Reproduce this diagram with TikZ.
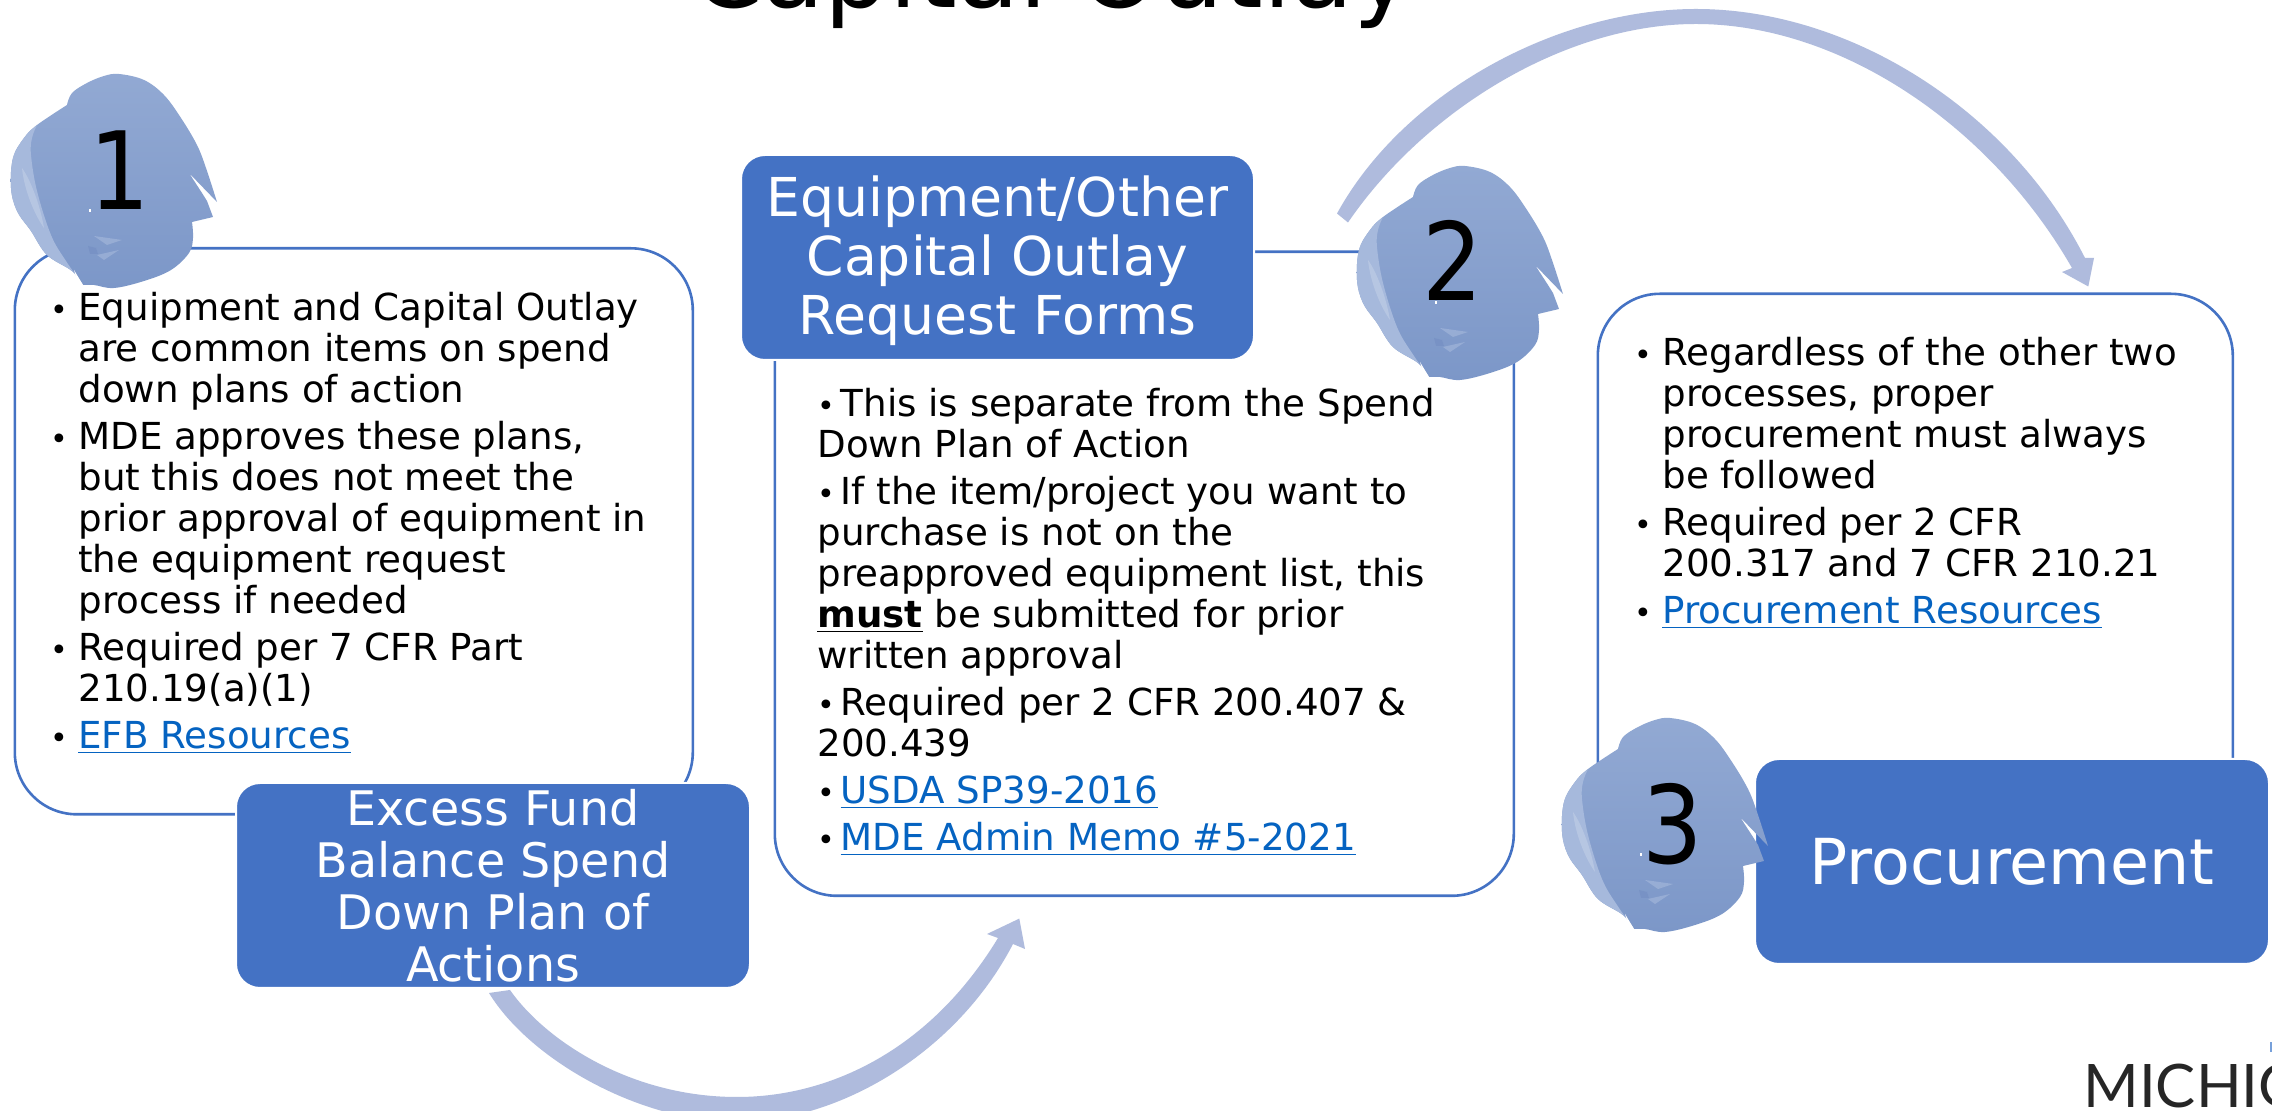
\documentclass[tikz,border=0pt]{standalone}
\usepackage{graphicx}
\usepackage{fontspec}
\setmainfont{DejaVu Sans}
\newfontfamily\logofont{Lato}
\usetikzlibrary{calc}
\definecolor{hdrblue}{HTML}{4472C4}
\definecolor{arrowblue}{HTML}{AFBBDD}
\definecolor{linkblue}{HTML}{0563C1}
\definecolor{blobtop}{HTML}{92A9D3}
\definecolor{blobbot}{HTML}{7C97C8}
\definecolor{bloblight}{HTML}{A6B9DC}
\definecolor{blobpale}{HTML}{C2CFE7}
\definecolor{blobdark}{HTML}{7690C3}
\newcommand{\bul}{\leavevmode\llap{\fontsize{15}{15}\selectfont•\hspace{5pt}}}
\newcommand{\bulin}{{\fontsize{15}{15}\selectfont•}\hspace{2.8pt}}
\newcommand{\lnk}[1]{\textcolor{linkblue}{\underline{#1}}}
\newcommand{\dgt}[1]{\scalebox{.88}[1]{#1}}
\tikzset{
  outlinebox/.style={draw=hdrblue,line width=1.3pt,fill=white,rounded corners=31pt,anchor=north west,inner sep=0pt},
  hdrbox/.style={draw=white,line width=1pt,fill=hdrblue,rounded corners=12pt,anchor=north west,inner sep=0pt,text=white,align=center},
  bodytext/.style={anchor=north west,inner sep=0pt,align=left,font=\fontsize{18.6}{20.5}\selectfont},
  digit/.style={inner sep=0pt,font=\fontsize{54}{54}\selectfont},
  arrowshape/.style={fill=arrowblue,draw=none},
  blobpic/.pic={
    \shade[top color=blobtop,bottom color=blobbot]
      plot[smooth,tension=.6] coordinates {(55,31)(60,19)(75,9)(92,2)(107,0)(132,6)(152,21)(169,44)(185,71)(194,94)(205,128)}
      -- (177,99) -- (190,119) -- (195,127) -- (201,143) -- (180,148)
      -- plot[smooth,tension=.6] coordinates {(180,148)(181,164)(177,179)(159,196)(132,207)(102,214)(82,211)(71,211)}
      -- plot[smooth,tension=.6] coordinates {(71,211)(60,197)(35,181)(19,157)(5,137)(-1,114)(1,84)(12,64)(25,51)(55,31)} -- cycle;
    \fill[bloblight] plot[smooth,tension=.6] coordinates {(25,51)(12,64)(1,84)(-1,114)(5,137)(19,157)(35,181)(60,197)(71,211)}
      -- plot[smooth,tension=.6] coordinates {(71,211)(54,187)(39,161)(25,117)(19,81)(20,64)(25,51)} -- cycle;
    \fill[blobpale,opacity=.6] (10,94) .. controls (18,105) and (28,130) .. (32,154) .. controls (22,140) and (12,115) .. (10,94) -- cycle;
    \fill[white] (62,196) -- (71,211) -- (66,210) -- cycle;
    \fill[bloblight,opacity=.6] (82,162) -- (110,166) -- (95,171) -- cycle;
    \fill[bloblight,opacity=.6] (85,181) -- (107,176) -- (92,186) -- cycle;
    \fill[blobdark,opacity=.7] (76,172) -- (84,174) -- (86,180) -- (78,180) -- cycle;
    \fill[white] (77,135) -- (79,135) -- (79,138) -- (77,138) -- cycle;
  }
}
\begin{document}
\begin{tikzpicture}[x=0.5pt,y=-0.5pt]
\useasboundingbox (0,0) rectangle (2272,1111);
\clip (0,0) rectangle (2272,1111);
\fill[white] (0,0) rectangle (2272,1111);

\node[inner sep=0pt,anchor=base,font=\fontsize{50.7}{50.7}\selectfont] (title) at (1053,8) {Capital Outlay};

% outlined boxes
\node[outlinebox,minimum width=339pt,minimum height=283pt] (box1) at (13.5,247) {};
\node[outlinebox,minimum width=369.5pt,minimum height=322pt] (box2) at (773.5,250.5) {};
\node[outlinebox,minimum width=317.5pt,minimum height=283pt] (box3) at (1596.5,292.5) {};

% headers
\node[hdrbox,minimum width=257pt,minimum height=102.5pt,font=\fontsize{23.8}{26}\selectfont] (efb) at (235,782) {Excess Fund\\Balance Spend\\Down Plan of\\Actions};
\node[hdrbox,minimum width=256.5pt,minimum height=102.5pt,font=\fontsize{26.8}{29.5}\selectfont] (forms) at (740,154) {\rule{0pt}{24pt}Equipment/Other\\Capital Outlay\\Request Forms};
\node[hdrbox,minimum width=257pt,minimum height=102.5pt,font=\fontsize{31.7}{32}\selectfont] (proc) at (1754,758) {Procurement};

% curved arrows
\coordinate (aOut) at ($(efb.south)+(-4,4)$);
\coordinate (aIn) at ($(efb.south)+(17,1)$);
\coordinate (aTip) at ($(box2.south)+(-125,21.5)$);
\fill[arrowshape] (aOut) .. controls (530,1060) and (640,1122) .. (737,1122)
  .. controls (840,1122) and (957,1052) .. (1013,944)
  -- (1025,949) -- (aTip) -- (987,934) -- (998,938)
  .. controls (930,1050) and (830,1097) .. (737,1097)
  .. controls (630,1097) and (545,1040) .. (aIn) -- cycle;

\coordinate (bOut) at ($(forms.east)+(82,-44)$);
\coordinate (bIn) at ($(forms.east)+(93,-35)$);
\coordinate (bTip) at ($(box3.north)+(173,-6)$);
\fill[arrowshape] (bOut) .. controls (1405,90) and (1560,9) .. (1696,9)
  .. controls (1850,9) and (2010,110) .. (2085,258)
  -- (2094,258) -- (bTip) -- (2062,272) -- (2072,268)
  .. controls (1990,125) and (1840,24) .. (1696,24)
  .. controls (1565,24) and (1425,110) .. (bIn) -- cycle;

% blobs
\pic at (12,74) {blobpic};
\pic at (1358,166) {blobpic};
\pic at (1563,718) {blobpic};
\node[digit] (n1) at (120,170) {\dgt{1}};
\node[digit] (n2) at (1453,260) {\dgt{2}};
\node[digit] (n3) at (1673,824) {\dgt{3}};

% body text
\node[bodytext] (t1) at (78,292) {\bul Equipment and Capital Outlay\\are common items on spend\\down plans of action\\[3pt]
\bul MDE approves these plans,\\but this does not meet the\\prior approval of equipment in\\the equipment request\\process if needed\\[3pt]
\bul Required per 7 CFR Part\\210.19(a)(1)\\[3pt]
\bul \lnk{EFB Resources}};

\node[bodytext] (t2) at (817,388) {\bulin This is separate from the Spend\\Down Plan of Action\\[3pt]
\bulin If the item/project you want to\\purchase is not on the\\preapproved equipment list, this\\\underline{\textbf{must}} be submitted for prior\\written approval\\[3pt]
\bulin Required per 2 CFR 200.407 \&\\200.439\\[3pt]
\bulin \lnk{USDA SP39-2016}\\[3pt]
\bulin \lnk{MDE Admin Memo \#5-2021}};

\node[bodytext] (t3) at (1662,337) {\bul Regardless of the other two\\processes, proper\\procurement must always\\be followed\\[3pt]
\bul Required per 2 CFR\\200.317 and 7 CFR 210.21\\[3pt]
\bul \lnk{Procurement Resources}};

\node[inner sep=0pt,anchor=base west,font=\logofont\fontsize{30}{30}\selectfont,text=black!85] (logo) at (2083,1108) {MICHIG};
\fill[cyan!50!blue!55] (2270,1042) rectangle (2272,1052);
\end{tikzpicture}
\end{document}
